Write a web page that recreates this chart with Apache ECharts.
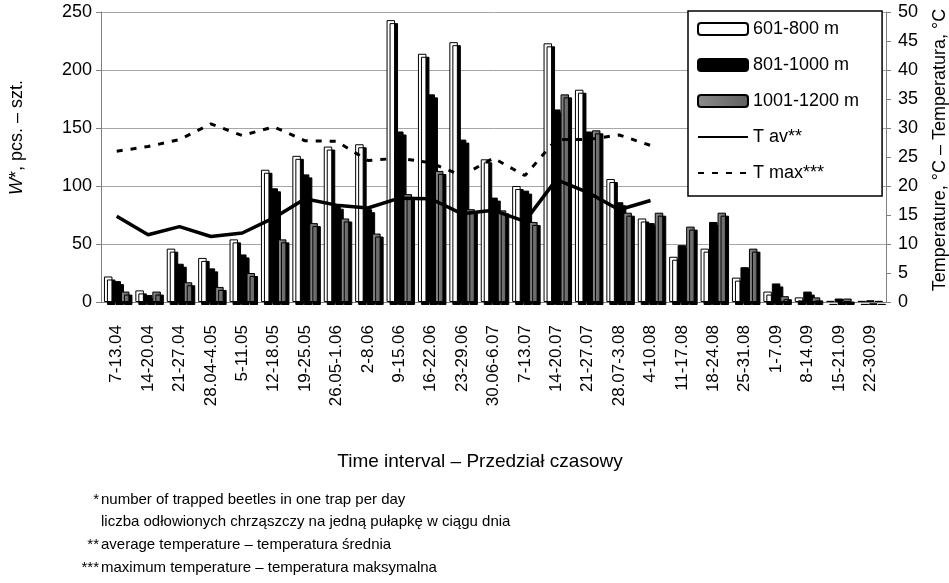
<!DOCTYPE html>
<html>
<head>
<meta charset="utf-8">
<script src="https://cdn.jsdelivr.net/npm/echarts@6/dist/echarts.min.js"></script>
<style>
  html, body { margin: 0; padding: 0; background: #fff; }
  #chart { width: 949px; height: 583px; }
</style>
</head>
<body>
<div id="chart"></div>
<script>
// time intervals (x axis)
var categories = ['7-13.04', '14-20.04', '21-27.04', '28.04-4.05', '5-11.05', '12-18.05', '19-25.05',
  '26.05-1.06', '2-8.06', '9-15.06', '16-22.06', '23-29.06', '30.06-6.07', '7-13.07', '14-20.07',
  '21-27.07', '28.07-3.08', '4-10.08', '11-17.08', '18-24.08', '25-31.08', '1-7.09', '8-14.09',
  '15-21.09', '22-30.09'];

// beetles per trap per day, by altitude
var w601_800 = [22, 10, 46, 38, 54, 114, 126, 134, 136, 243, 214, 224, 123, 100, 223, 183, 106, 72, 39, 46, 21, 9, 4, 1, 1];
var w801_1000 = [18, 6, 33, 29, 41, 98, 110, 83, 80, 147, 179, 140, 90, 96, 166, 147, 86, 68, 49, 69, 30, 16, 9, 3, 1.5];
var w1001_1200 = [9, 9, 17, 13, 25, 54, 68, 72, 59, 93, 113, 80, 79, 69, 179, 148, 77, 77, 65, 77, 46, 5, 4, 3, 1];

// temperatures, degC (only up to 4-10.08)
var tAv = [14.8, 11.6, 13.0, 11.3, 11.9, 14.5, 17.8, 16.7, 16.2, 17.9, 17.8, 15.2, 15.8, 13.9, 21.1, 18.9, 15.9, 17.5];
var tMax = [26.0, 26.8, 28.0, 30.7, 28.7, 30.2, 27.8, 27.7, 24.4, 24.8, 24.0, 21.8, 24.8, 21.8, 28.0, 28.0, 28.8, 27.0];

var leftTicks = [0, 50, 100, 150, 200, 250];
var rightTicks = [0, 5, 10, 15, 20, 25, 30, 35, 40, 45, 50];

var font = 'Liberation Sans, Arial, sans-serif';
var myChart = echarts.init(document.getElementById('chart'));

function barStyle(fill) {
  return {
    color: fill,
    borderColor: '#000',
    borderWidth: 1,
    shadowColor: '#000',
    shadowBlur: 0,
    shadowOffsetX: 3,
    shadowOffsetY: 3
  };
}

// line legend icons: no marker, just the line
var noMarker = { color: 'transparent', borderColor: 'transparent', opacity: 0 };

myChart.setOption({
  animation: false,
  textStyle: { fontFamily: font, color: '#000' },
  grid: { left: 101, right: 63, top: 12, bottom: 281 },
  legend: {
    orient: 'vertical',
    left: 688,
    top: 11,
    padding: [9, 23, 14, 9],
    itemGap: 18,
    itemWidth: 50,
    itemHeight: 12,
    backgroundColor: '#fff',
    borderColor: '#000',
    borderWidth: 1.5,
    borderRadius: 0,
    textStyle: { fontSize: 18, fontFamily: font, color: '#000' },
    itemStyle: { shadowColor: 'transparent', shadowOffsetX: 0, shadowOffsetY: 0 },
    data: [
      '601-800 m', '801-1000 m', '1001-1200 m',
      { name: 'T av**', itemStyle: noMarker },
      { name: 'T max***', itemStyle: noMarker }
    ]
  },
  xAxis: {
    type: 'category',
    data: categories,
    axisLine: { lineStyle: { color: '#808080', width: 1 } },
    axisTick: { show: false },
    axisLabel: { rotate: 90, interval: 0, fontSize: 17, margin: 23, color: '#000' }
  },
  yAxis: [
    {
      type: 'value',
      min: leftTicks[0],
      max: leftTicks[leftTicks.length - 1],
      interval: 50,
      axisLine: { show: true, lineStyle: { color: '#808080' } },
      axisTick: { show: true, length: 5, lineStyle: { color: '#808080' } },
      splitLine: { lineStyle: { color: '#a6a6a6', width: 1 } },
      axisLabel: { fontSize: 18, margin: 9, color: '#000' }
    },
    {
      type: 'value',
      min: rightTicks[0],
      max: rightTicks[rightTicks.length - 1],
      interval: 5,
      position: 'right',
      axisLine: { show: true, lineStyle: { color: '#808080' } },
      axisTick: { show: true, length: 5, lineStyle: { color: '#808080' } },
      splitLine: { show: false },
      axisLabel: { fontSize: 18, margin: 12, color: '#000' }
    }
  ],
  series: [
    { name: '601-800 m', type: 'bar', data: w601_800, barWidth: 8.5, barGap: '0%', itemStyle: barStyle('#fff') },
    { name: '801-1000 m', type: 'bar', data: w801_1000, barWidth: 8.5, barGap: '0%', itemStyle: barStyle('#000') },
    {
      name: '1001-1200 m', type: 'bar', data: w1001_1200, barWidth: 8.5, barGap: '0%',
      itemStyle: barStyle(new echarts.graphic.LinearGradient(0, 0, 1, 0, [
        { offset: 0, color: '#8c8c8c' }, { offset: 1, color: '#5e5e5e' }
      ]))
    },
    {
      name: 'T av**', type: 'line', yAxisIndex: 1, data: tAv, symbol: 'none', z: 5,
      lineStyle: { color: '#000', width: 3.5 }, itemStyle: { color: '#000' }
    },
    {
      name: 'T max***', type: 'line', yAxisIndex: 1, data: tMax, symbol: 'none', z: 5,
      lineStyle: { color: '#000', width: 3, type: [6, 8] }, itemStyle: { color: '#000' }
    }
  ],
  graphic: [
    {
      type: 'text', left: 8, top: 80, rotation: Math.PI / 2,
      style: {
        text: '{i|W}*, pcs. – szt.', font: '18px ' + font, fill: '#000',
        rich: { i: { fontStyle: 'italic', fontSize: 18, fontFamily: font } }
      }
    },
    {
      type: 'text', x: 940, y: 150, rotation: Math.PI / 2,
      style: { text: 'Temperature, °C – Temperatura, °C', font: '18px ' + font, fill: '#000', align: 'center', verticalAlign: 'middle' }
    },
    {
      type: 'text', x: 480, y: 462,
      style: { text: 'Time interval – Przedział czasowy', font: '19px ' + font, fill: '#000', align: 'center', verticalAlign: 'middle' }
    },
    { type: 'text', x: 99, y: 500, style: { text: '*', font: '15px ' + font, fill: '#000', align: 'right', verticalAlign: 'middle' } },
    { type: 'text', x: 101, y: 500, style: { text: 'number of trapped beetles in one trap per day', font: '15px ' + font, fill: '#000', verticalAlign: 'middle' } },
    { type: 'text', x: 101, y: 522, style: { text: 'liczba odłowionych chrząszczy na jedną pułapkę w ciągu dnia', font: '15px ' + font, fill: '#000', verticalAlign: 'middle' } },
    { type: 'text', x: 99, y: 545, style: { text: '**', font: '15px ' + font, fill: '#000', align: 'right', verticalAlign: 'middle' } },
    { type: 'text', x: 101, y: 545, style: { text: 'average temperature – temperatura średnia', font: '15px ' + font, fill: '#000', verticalAlign: 'middle' } },
    { type: 'text', x: 99, y: 568, style: { text: '***', font: '15px ' + font, fill: '#000', align: 'right', verticalAlign: 'middle' } },
    { type: 'text', x: 101, y: 568, style: { text: 'maximum temperature – temperatura maksymalna', font: '15px ' + font, fill: '#000', verticalAlign: 'middle' } }
  ]
});
window.onresize = function () {
  myChart.resize();
};
</script>
</body>
</html>
